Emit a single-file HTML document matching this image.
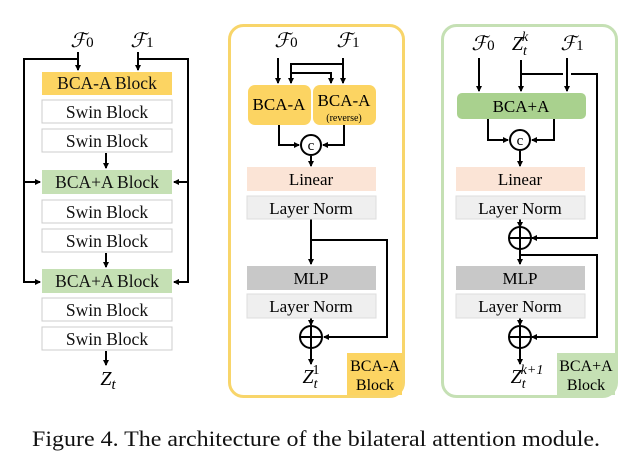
<!DOCTYPE html>
<html><head><style>body{margin:0;background:#fff}svg{display:block}</style></head><body>
<svg width="644" height="461" viewBox="0 0 644 461" xmlns="http://www.w3.org/2000/svg" font-family="Liberation Serif, serif">
<defs><marker id="a" markerWidth="6" markerHeight="6" refX="5" refY="3" orient="auto" markerUnits="userSpaceOnUse"><path d="M0,0 L6,3 L0,6 z" fill="#000"/></marker></defs>
<g stroke="#000" stroke-width="2" fill="none">
<path d="M78,52 V70" marker-end="url(#a)"/><path d="M138,52 V70" marker-end="url(#a)"/>
<path d="M78,59 H24 V282 H40" marker-end="url(#a)"/><path d="M24,182 H40" marker-end="url(#a)"/>
<path d="M138,59 H188 V282 H174" marker-end="url(#a)"/><path d="M188,182 H174" marker-end="url(#a)"/>
<path d="M106,153 V168" marker-end="url(#a)"/><path d="M106,253 V267" marker-end="url(#a)"/><path d="M106,351 V365" marker-end="url(#a)"/>
</g>
<g stroke="#ccc" stroke-width="1">
<rect x="42" y="72" width="130" height="23" fill="#fcd462" stroke="none"/>
<rect x="42" y="100" width="130" height="23" fill="#fff"/><rect x="42" y="129" width="130" height="23" fill="#fff"/>
<rect x="42" y="170" width="130" height="24" fill="#c5e0b4" stroke="none"/>
<rect x="42" y="200" width="130" height="23" fill="#fff"/><rect x="42" y="229" width="130" height="23" fill="#fff"/>
<rect x="42" y="269" width="130" height="24" fill="#c5e0b4" stroke="none"/>
<rect x="42" y="298" width="130" height="23" fill="#fff"/><rect x="42" y="327" width="130" height="23" fill="#fff"/>
</g>
<g font-size="17.5" text-anchor="middle" fill="#111">
<text x="107" y="89">BCA-A Block</text><text x="107" y="118">Swin Block</text><text x="107" y="147">Swin Block</text>
<text x="107" y="188">BCA+A Block</text><text x="107" y="218">Swin Block</text><text x="107" y="247">Swin Block</text>
<text x="107" y="287">BCA+A Block</text><text x="107" y="316">Swin Block</text><text x="107" y="345">Swin Block</text>
</g>
<g font-size="20" font-style="italic" text-anchor="middle">
<text x="82" y="47">ℱ<tspan font-style="normal" font-size="15">0</tspan></text>
<text x="142" y="47">ℱ<tspan font-style="normal" font-size="15">1</tspan></text>
<text x="108" y="385">Z<tspan font-size="15" dy="4">t</tspan></text>
</g>

<rect x="229.5" y="25.5" width="174" height="371" rx="14" fill="none" stroke="#f8d56a" stroke-width="3"/>
<rect x="347" y="353" width="55" height="42" fill="#fcd462"/>
<g font-size="16" text-anchor="middle"><text x="375" y="371">BCA-A</text><text x="375" y="390">Block</text></g>
<g stroke="#000" stroke-width="2" fill="none">
<path d="M278,58 V83" marker-end="url(#a)"/><path d="M343,58 V83" marker-end="url(#a)"/>
<path d="M343,64 H291 V83" marker-end="url(#a)"/><path d="M291,73 H331 V83" marker-end="url(#a)"/>
<path d="M279,125 V145 H299" marker-end="url(#a)"/><path d="M344,125 V145 H323" marker-end="url(#a)"/>
<path d="M311,156 V166" marker-end="url(#a)"/>
<path d="M311,219 V264" marker-end="url(#a)"/><path d="M311,240 H387 V337 H324" marker-end="url(#a)"/>
<path d="M311,318 V325" marker-end="url(#a)"/><path d="M311,348 V364" marker-end="url(#a)"/>
</g>
<rect x="248" y="85" width="63" height="40" rx="7" fill="#fcd462"/>
<rect x="313" y="85" width="63" height="40" rx="7" fill="#fcd462"/>
<g font-size="17" text-anchor="middle"><text x="279" y="110">BCA-A</text><text x="344" y="106">BCA-A</text></g>
<text x="344" y="121" font-size="10" text-anchor="middle">(reverse)</text>
<circle cx="311" cy="145" r="10" fill="#fff" stroke="#000" stroke-width="2"/><text x="311" y="150" font-size="15" text-anchor="middle">c</text>
<rect x="247" y="167" width="129" height="24" fill="#fbe4d6"/>
<rect x="247" y="196" width="129" height="23" fill="#efefef" stroke="#ddd"/>
<rect x="247" y="266" width="129" height="24" fill="#c8c8c8"/>
<rect x="247" y="294" width="129" height="24" fill="#efefef" stroke="#ddd"/>
<g font-size="17" text-anchor="middle"><text x="311" y="185">Linear</text><text x="311" y="214">Layer Norm</text><text x="311" y="284">MLP</text><text x="311" y="312">Layer Norm</text></g>
<circle cx="311" cy="337" r="11" fill="#fff" stroke="#000" stroke-width="2"/><path d="M300,337 H322 M311,326 V348" stroke="#000" stroke-width="2"/>
<g font-size="20" font-style="italic" text-anchor="middle">
<text x="286" y="47">ℱ<tspan font-style="normal" font-size="15">0</tspan></text>
<text x="348" y="47">ℱ<tspan font-style="normal" font-size="15">1</tspan></text>
<text x="311" y="383">Z<tspan font-size="14" dy="5">t</tspan><tspan font-style="normal" font-size="14" dx="-5" dy="-14">1</tspan></text>
</g>

<rect x="442.5" y="25.5" width="174" height="371" rx="14" fill="none" stroke="#c5e0b4" stroke-width="3"/>
<rect x="557" y="353" width="58" height="42" fill="#c5e0b4"/>
<g font-size="16" text-anchor="middle"><text x="586" y="371">BCA+A</text><text x="586" y="390">Block</text></g>
<g stroke="#000" stroke-width="2" fill="none">
<path d="M479,58 V91" marker-end="url(#a)"/><path d="M521,60 V91" marker-end="url(#a)"/><path d="M567,58 V91" marker-end="url(#a)"/>
<path d="M521,74 H563 M571,74 H597 V238 H532" marker-end="url(#a)"/>
<path d="M488,119 V140 H508" marker-end="url(#a)"/><path d="M554,119 V140 H532" marker-end="url(#a)"/>
<path d="M520,151 V166" marker-end="url(#a)"/>
<path d="M520,219 V227" marker-end="url(#a)"/><path d="M520,249 V264" marker-end="url(#a)"/>
<path d="M520,255 H597 V337 H532" marker-end="url(#a)"/>
<path d="M520,318 V325" marker-end="url(#a)"/><path d="M520,348 V364" marker-end="url(#a)"/>
</g>
<rect x="457" y="93" width="129" height="26" rx="5" fill="#a9d18e"/>
<text x="521" y="112" font-size="17" text-anchor="middle">BCA+A</text>
<circle cx="520" cy="140" r="10" fill="#fff" stroke="#000" stroke-width="2"/><text x="520" y="145" font-size="15" text-anchor="middle">c</text>
<rect x="456" y="167" width="129" height="24" fill="#fbe4d6"/>
<rect x="456" y="196" width="129" height="23" fill="#efefef" stroke="#ddd"/>
<rect x="456" y="266" width="129" height="24" fill="#c8c8c8"/>
<rect x="456" y="294" width="129" height="24" fill="#efefef" stroke="#ddd"/>
<g font-size="17" text-anchor="middle"><text x="520" y="185">Linear</text><text x="520" y="214">Layer Norm</text><text x="520" y="284">MLP</text><text x="520" y="312">Layer Norm</text></g>
<circle cx="520" cy="238" r="11" fill="#fff" stroke="#000" stroke-width="2"/><path d="M509,238 H531 M520,227 V249" stroke="#000" stroke-width="2"/>
<circle cx="520" cy="337" r="11" fill="#fff" stroke="#000" stroke-width="2"/><path d="M509,337 H531 M520,326 V348" stroke="#000" stroke-width="2"/>
<g font-size="20" font-style="italic" text-anchor="middle">
<text x="483" y="50">ℱ<tspan font-style="normal" font-size="15">0</tspan></text>
<text x="572" y="50">ℱ<tspan font-style="normal" font-size="15">1</tspan></text>
<text x="520" y="50">Z<tspan font-size="14" dy="5">t</tspan><tspan font-size="14" dx="-5" dy="-14">k</tspan></text>
<text x="527" y="383">Z<tspan font-size="14" dy="5">t</tspan><tspan font-size="14" dx="-5" dy="-14">k+1</tspan></text>
</g>

<text x="32" y="446" font-size="22" textLength="568" lengthAdjust="spacingAndGlyphs" fill="#111">Figure 4. The architecture of the bilateral attention module.</text>
</svg>
</body></html>
